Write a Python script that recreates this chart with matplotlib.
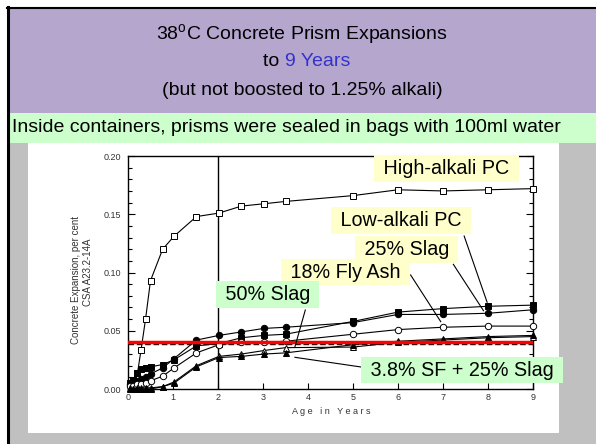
#!/usr/bin/env python
# -*- coding: utf-8 -*-

"""
38C concrete prism expansions to 9 years (slide-style chart)
"""

import matplotlib
matplotlib.use("Agg")
import matplotlib.pyplot as plt
from matplotlib.patches import Rectangle

plt.rcParams['font.family'] = ['Liberation Sans', 'DejaVu Sans']
plt.rcParams['mathtext.fontset'] = 'custom'
plt.rcParams['mathtext.rm'] = 'Liberation Sans'

# =====================
#  data (years / per cent expansion)
# =====================
age_years = [0.04, 0.12, 0.21, 0.29, 0.39, 0.50, 0.77, 1.02, 1.52,
             2.02, 2.52, 3.02, 3.50, 5.00, 6.00, 7.00, 8.00, 9.00]

high_alkali_pc = [0.004, 0.008, 0.0135, 0.0335, 0.060, 0.093, 0.120, 0.131, 0.148,
                  0.151, 0.157, 0.159, 0.161, 0.166, 0.171, 0.170, 0.171, 0.172]
low_alkali_pc = [0.005, 0.008, 0.014, 0.017, 0.018, 0.019, 0.021, 0.025, 0.037,
                 0.039, 0.044, 0.046, 0.047, 0.058, 0.066, 0.069, 0.071, 0.072]
slag_25 = [0.004, 0.005, 0.007, 0.009, 0.010, 0.013, 0.018, 0.026, 0.042,
           0.046, 0.049, 0.052, 0.053, 0.057, 0.064, 0.064, 0.065, 0.068]
fly_ash_18 = [0.003, 0.003, 0.004, 0.004, 0.005, 0.007, 0.011, 0.018, 0.031,
              0.038, 0.040, 0.040, 0.041, 0.047, 0.051, 0.053, 0.054, 0.054]
slag_50 = [0.001, 0.000, 0.001, 0.001, 0.001, 0.001, 0.002, 0.006, 0.020,
           0.028, 0.030, 0.033, 0.0355, 0.036, 0.040, 0.042, 0.044, 0.045]
sf_slag = [0.000, 0.000, 0.000, 0.000, 0.000, 0.000, 0.002, 0.005, 0.019,
           0.027, 0.028, 0.030, 0.031, 0.038, 0.041, 0.043, 0.045, 0.046]

limit_line = 0.040

W, H = 596, 444


def fx(x):
    return x / W


def fy(y):
    return 1 - y / H


def rect(fig, x0, y0, x1, y1, color, **kw):
    fig.patches.append(Rectangle((fx(x0), fy(y1)), fx(x1 - x0), (y1 - y0) / H,
                                 transform=fig.transFigure, facecolor=color,
                                 edgecolor='none', **kw))


fig = plt.figure(figsize=(W / 100, H / 100), dpi=100)

# ---- slide background ----
rect(fig, 8, 8, 600, 113, '#B5A6CE', zorder=0)
rect(fig, 8, 113, 600, 143, '#CCFFCC', zorder=0)
rect(fig, 8, 143, 600, 450, '#C0C0C0', zorder=0)
rect(fig, 28, 143, 559, 433, 'white', zorder=0)
fig.add_artist(plt.Line2D([fx(8), fx(8)], [fy(7), 0], color='black', lw=2.2))
fig.add_artist(plt.Line2D([fx(7), 1], [fy(8), fy(8)], color='black', lw=1.5))

# ---- titles ----
fig.text(fx(302), fy(35), r"38$^{\mathrm{o}}$C Concrete Prism Expansions",
         ha='center', va='center', fontsize=14)
fig.text(fx(285), fy(62), "to ", ha='right', va='center', fontsize=14)
fig.text(fx(285), fy(62), "9 Years", ha='left', va='center', fontsize=14,
         color='#3333CC')
fig.text(fx(302), fy(90), "(but not boosted to 1.25% alkali)",
         ha='center', va='center', fontsize=14)
fig.text(fx(12), fy(128), "Inside containers, prisms were sealed in bags with 100ml water",
         ha='left', va='center', fontsize=14.0)

# ---- chart ----
ax = fig.add_axes([fx(128), fy(389), fx(533 - 128), (389 - 156) / H])
ax.set_zorder(3)
ax.set_facecolor('white')

series = [
    (high_alkali_pc, 's', 'white'),
    (low_alkali_pc, 's', 'black'),
    (slag_25, 'o', 'black'),
    (fly_ash_18, 'o', 'white'),
    (slag_50, '^', 'white'),
    (sf_slag, '^', 'black'),
]
for vals, mk, face in series:
    ax.plot(age_years, vals, color='black', lw=0.8, marker=mk, ms=4.6,
            mfc=face, mec='black', mew=0.7, zorder=3, clip_on=False)

ax.axhline(limit_line - 0.0012, color='black', lw=1.0, ls=(0, (4, 2)), zorder=2)
ax.axhline(limit_line, color='#FF0000', lw=2.5, zorder=4)
ax.axvline(2, color='black', lw=1.0, zorder=1)

ax.set_xlim(0, 9)
ax.set_ylim(0, 0.20)
ax.set_xticks(range(0, 10))
ax.set_yticks([0.00, 0.05, 0.10, 0.15, 0.20])
ax.set_yticks([i / 100 for i in range(0, 21)], minor=True)
ax.set_yticklabels(['0.00', '0.05', '0.10', '0.15', '0.20'])
ax.tick_params(axis='both', which='both', direction='in', labelsize=6.5,
               labelcolor='#333333', width=0.8)
ax.tick_params(axis='y', which='major', length=5, right=True, pad=5)
ax.tick_params(axis='y', which='minor', length=3, right=True)
ax.tick_params(axis='x', which='major', length=4, pad=3)
for s in ax.spines.values():
    s.set_linewidth(1.0)

fig.text(fx(331), fy(411), "A g e   i n   Y e a r s", ha='center', va='center',
         fontsize=6.5, color='#333333')
fig.text(fx(76), fy(280), "Concrete Expansion, per cent", ha='center', va='center',
         rotation=90, fontsize=7, color='#333333')
fig.text(fx(88), fy(272), "CSA A23.2-14A", ha='center', va='center',
         rotation=90, fontsize=7, color='#333333')

# ---- callout labels ----
yellow = dict(boxstyle='square,pad=0.2', facecolor='#FFFFCC', edgecolor='none')
green = dict(boxstyle='square,pad=0.2', facecolor='#CCFFCC', edgecolor='none')

leaders = [
    ((7.47, 0.1313), (7.98, 0.0745)),
    ((7.23, 0.107), (7.90, 0.0672)),
    ((6.28, 0.0979), (6.95, 0.0578)),
    ((3.94, 0.0678), (3.71, 0.0363)),
    ((3.71, 0.0272), (5.23, 0.0186)),
]
for (x0, y0), (x1, y1) in leaders:
    ax.plot([x0, x1], [y0, y1], color='black', lw=0.8, zorder=5)

labels = [
    ("High-alkali PC", 7.08, 0.189, yellow),
    ("Low-alkali PC", 6.06, 0.1444, yellow),
    ("25% Slag", 6.19, 0.1197, yellow),
    ("18% Fly Ash", 4.84, 0.1004, yellow),
    ("50% Slag", 3.10, 0.081, green),
    ("3.8% SF + 25% Slag", 7.42, 0.0163, green),
]
for txt, x, y, box in labels:
    ax.text(x, y, " " + txt + " ", ha='center', va='center', fontsize=14.2,
            bbox=box, zorder=6, clip_on=False)

fig.savefig("out.png", dpi=100, facecolor='white')
